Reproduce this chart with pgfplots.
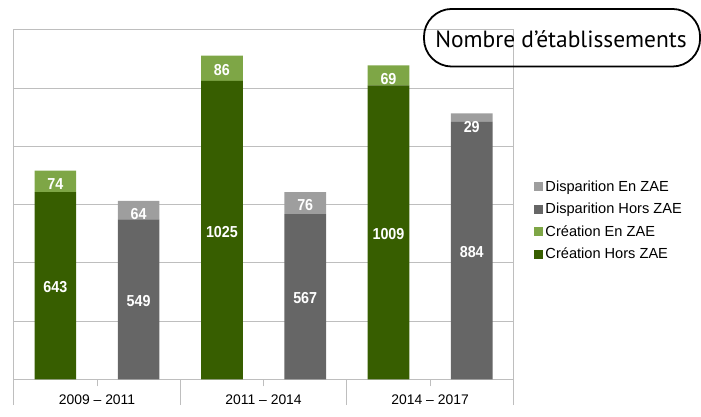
\documentclass[border=0pt]{standalone}
\usepackage{pgfplots}
\pgfplotsset{compat=1.18}
\usepackage{fontspec}
\setmainfont{Liberation Sans}
\newfontfamily\titlefont{PT Sans}
\newfontfamily\labelfont{Liberation Sans}[FakeStretch=0.9]
\definecolor{cdark}{HTML}{375E00}
\definecolor{clight}{HTML}{7EA646}
\definecolor{gdark}{HTML}{666666}
\definecolor{glight}{HTML}{9E9E9E}
\definecolor{gridc}{HTML}{BEBEBE}
\begin{document}
\begin{tikzpicture}
\begin{axis}[
  at={(0pt,0pt)}, anchor=south west,
  scale only axis, width=503pt, height=352pt,
  xmin=-0.5, xmax=2.5, ymin=0, ymax=1200,
  ybar stacked, bar width=0.25,
  xtick={0,1,2},
  xticklabels={2009 – 2011, 2011 – 2014, 2014 – 2017},
  extra x ticks={-0.5,0.5,1.5,2.5}, extra x tick labels={},
  extra x tick style={major tick length=26pt, grid=none},
  ytick={0,200,...,1200}, yticklabels={}, ymajorgrids,
  ytick style={draw=none},
  xtick style={gridc, line width=0.8pt},
  tick align=outside, xtick pos=bottom, ytick pos=left,
  major tick length=7pt,
  axis line style={gridc, line width=0.8pt},
  grid style={gridc, line width=0.8pt},
  xticklabel style={font=\fontsize{14}{16}\selectfont, text=black, yshift=-4.5pt},
  reverse legend,
  legend style={at={(rel axis cs:1.040,0.575)}, anchor=north west, draw=none, fill=none,
    font=\fontsize{14.7}{16}\selectfont, inner sep=0pt, row sep=6.5pt},
  legend cell align=left,
  legend image code/.code={\fill[#1] (0pt,-4.5pt) rectangle (10pt,4.5pt);},
  visualization depends on={value \thisrow{y}\as\rawy},
  nodes near coords={\ifdim\rawy pt>0pt\relax\rawy\fi},
  every node near coord/.append style={anchor=center, text=white,
    font=\labelfont\bfseries\fontsize{16}{16}\selectfont,
    yshift={-1.5-max(0,12-\rawy*0.146667)}},
]
\addplot[fill=cdark, draw=none] table[x=x,y=y,row sep=\\] {
x y \\ -0.25 643 \\ 0.25 0 \\ 0.75 1025 \\ 1.25 0 \\ 1.75 1009 \\ 2.25 0 \\
};
\addlegendentry{Création Hors ZAE}
\addplot[fill=clight, draw=none] table[x=x,y=y,row sep=\\] {
x y \\ -0.25 74 \\ 0.25 0 \\ 0.75 86 \\ 1.25 0 \\ 1.75 69 \\ 2.25 0 \\
};
\addlegendentry{Création En ZAE}
\addplot[fill=gdark, draw=none] table[x=x,y=y,row sep=\\] {
x y \\ -0.25 0 \\ 0.25 549 \\ 0.75 0 \\ 1.25 567 \\ 1.75 0 \\ 2.25 884 \\
};
\addlegendentry{Disparition Hors ZAE}
\addplot[fill=glight, draw=none] table[x=x,y=y,row sep=\\] {
x y \\ -0.25 0 \\ 0.25 64 \\ 0.75 0 \\ 1.25 76 \\ 1.75 0 \\ 2.25 29 \\
};
\addlegendentry{Disparition En ZAE}
\end{axis}
\draw[line width=1.8pt, rounded corners=28pt] (413pt,315pt) rectangle (691pt,373pt);
\node at (551pt,343pt) {\titlefont\fontsize{23.6}{28}\selectfont Nombre d’établissements};
\path[use as bounding box] (-12pt,-25pt) rectangle (689pt,382pt);
\end{tikzpicture}
\end{document}
